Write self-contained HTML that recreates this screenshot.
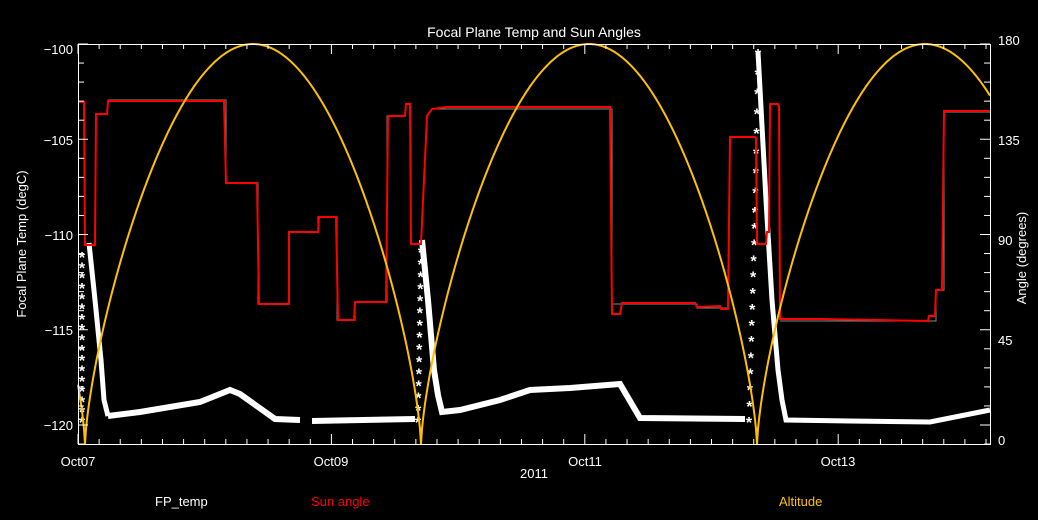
<!DOCTYPE html>
<html><head><meta charset="utf-8"><style>
html,body{margin:0;padding:0;background:#000;width:1038px;height:520px;overflow:hidden}
svg{display:block;font-family:"Liberation Sans",sans-serif}
</style></head><body>
<svg id="s" width="1038" height="520" viewBox="0 0 1038 520" xmlns="http://www.w3.org/2000/svg">
<rect width="1038" height="520" fill="#000"/>
<g id="data"></g>
<g id="ax" stroke="#fff" stroke-width="1" fill="none">
<rect x="78.5" y="44.5" width="912" height="400"/>
</g>
<g fill="#fff" font-size="13">
<text x="534" y="37" text-anchor="middle" font-size="14">Focal Plane Temp and Sun Angles</text>
<text x="73" y="54" text-anchor="end">−100</text>
<text x="73" y="145" text-anchor="end">−105</text>
<text x="73" y="240" text-anchor="end">−110</text>
<text x="73" y="335" text-anchor="end">−115</text>
<text x="73" y="430" text-anchor="end">−120</text>
<text x="998" y="45">180</text>
<text x="998" y="145">135</text>
<text x="998" y="245">90</text>
<text x="998" y="345">45</text>
<text x="998" y="445">0</text>
<text x="78" y="466" text-anchor="middle">Oct07</text>
<text x="331" y="466" text-anchor="middle">Oct09</text>
<text x="585" y="466" text-anchor="middle">Oct11</text>
<text x="838" y="466" text-anchor="middle">Oct13</text>
<text x="534" y="478" text-anchor="middle">2011</text>
<text transform="translate(26,244) rotate(-90)" text-anchor="middle">Focal Plane Temp (degC)</text>
<text transform="translate(1026,258) rotate(-90)" text-anchor="middle">Angle (degrees)</text>
<text x="155" y="506">FP_temp</text>
<text x="311" y="506" fill="#ff0000">Sun angle</text>
<text x="779" y="506" fill="#ffc000">Altitude</text>
</g>
</svg>
<script>
var NS="http://www.w3.org/2000/svg",d=document.getElementById('data'),ax=document.getElementById('ax');
function el(t,a,p){var e=document.createElementNS(NS,t);for(var k in a)e.setAttribute(k,a[k]);(p||d).appendChild(e);return e;}
for(var i=0;i<=21;i++){var y=44+i*19.05;var L=(i%5==0)?10:6;
 el('line',{x1:78,y1:y,x2:78+L,y2:y},ax);
 el('line',{x1:990,y1:y,x2:990-L,y2:y},ax);}
for(var i=0;;i++){var x=78+i*126.7/6;if(x>990)break;var L=(i%12==0)?10:5;
 el('line',{x1:x,y1:444,x2:x,y2:444-L},ax);el('line',{x1:x,y1:44,x2:x,y2:44+L},ax);}
var w=[[108,416],[140,412],[200,402],[230,390],[240,394],[275,419],[300,420]];
el('polyline',{points:w.join(' '),stroke:'#fff','stroke-width':6,fill:'none'});
el('polyline',{points:[[312,421],[415,419]].join(' '),stroke:'#fff','stroke-width':6,fill:'none'});
el('polyline',{points:[[89,243],[95,300],[101,360],[104,400],[108,416]].join(' '),stroke:'#fff','stroke-width':5,fill:'none'});
el('polyline',{points:[[422,240],[428,300],[434,370],[438,395],[442,412],[460,410],[500,400],[530,390],[570,388],[620,384],[640,418],[745,419]].join(' '),stroke:'#fff','stroke-width':6,fill:'none'});
el('polyline',{points:[[758,52],[766,200],[772,300],[778,370],[782,400],[786,420],[850,421],[930,422],[960,416],[990,410]].join(' '),stroke:'#fff','stroke-width':5,fill:'none'});
function stars(x0,y0,x1,y1,n){for(var i=0;i<=n;i++){var t=i/n;el('text',{x:x0+(x1-x0)*t,y:y0+(y1-y0)*t+8,fill:'#fff','font-size':16,'font-weight':'bold','text-anchor':'middle'}).textContent='*';}}
stars(82,255,82,420,16);stars(418,420,421,250,14);stars(749,420,755,210,13);stars(755,210,758,52,8);
el('polyline',{points:[[108,100],[226,100],[226,183],[258,183],[258,304],[289,304],[289,232],[318,232],[318,217],[337,217],[337,320],[355,320],[355,302],[387,302],[387,116],[406,116]].join(' '),stroke:'#888','stroke-width':1,fill:'none'});
el('polyline',{points:[[432,109],[612,109],[612,304],[697,304],[697,308],[729,308]].join(' '),stroke:'#888','stroke-width':1,fill:'none'});
el('polyline',{points:[[780,321],[936,321],[936,290],[944,290],[944,112],[990,112]].join(' '),stroke:'#888','stroke-width':1,fill:'none'});
var r=[[78,102],[84,102],[85,245],[95,245],[96,114],[107,114],[108,101],[224,101],[226,183],[257,183],[259,304],[289,304],[289,232],[318,232],[319,217],[336,217],[338,320],[354,320],[355,302],[386,302],[388,116],[405,116],[406,104],[410,104],[411,244],[421,244],[427,116],[432,109],[447,107],[610,107],[612,314],[620,314],[622,303],[695,303],[697,307],[720,306],[721,309],[728,309],[730,137],[755,137],[756,138],[757,244],[766,244],[767,232],[769,232],[770,104],[778,104],[779,106],[780,319],[820,319],[878,320],[928,321],[929,316],[935,316],[936,290],[942,290],[944,111],[990,111]];
el('polyline',{points:r.join(' '),stroke:'#ff0000','stroke-width':2,fill:'none'});
var p=[];for(var x=78;x<=990;x+=1){var s=Math.abs(Math.sin(Math.PI*(x-85)/336));p.push([x,444-400*Math.pow(s,0.7)]);}
el('polyline',{points:p.join(' '),stroke:'#ffc000','stroke-width':2,fill:'none'});
</script>
</body></html>
